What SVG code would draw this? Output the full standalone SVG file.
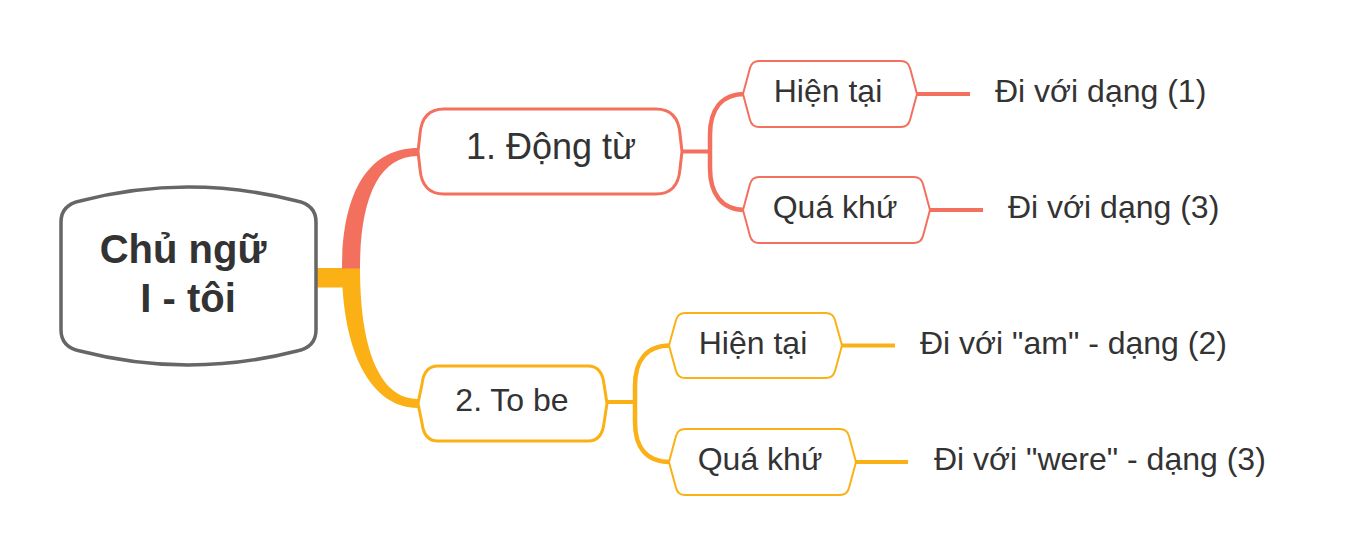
<svg xmlns="http://www.w3.org/2000/svg" width="1364" height="556" viewBox="0 0 1364 556">
<style>
text{font-family:"Liberation Sans",Arial,"Noto Sans",sans-serif;fill:#333333}
.central{font-size:40px;font-weight:bold;text-anchor:middle}
.main{font-size:36px;text-anchor:middle}
.main2{font-size:32px;text-anchor:middle}
.sub{font-size:32px;text-anchor:middle}
.leaf{font-size:32px}
.red{stroke:#F3705E}
.yel{stroke:#FBB116}
.nodeMain{fill:#ffffff;stroke-width:3}
.nodeSub{fill:#ffffff;stroke-width:2}
.line{fill:none;stroke-width:4;stroke-linecap:butt}
.brk{fill:none;stroke-width:4.5;stroke-linecap:butt}
</style>
<rect width="1364" height="556" fill="#ffffff"/>
<g id="connectors">
  <rect x="314" y="268" width="34" height="19.5" fill="#FBB116"/>
  <path d="M342,268 C342,350 370,408 418,408 L418,399 C378,399 360,345 360,268 Z" fill="#FBB116"/>
  <path d="M342,268.5 C342,190 370,148 418,148 L418,156 C378,156 360,200 360,268.5 Z" fill="#F3705E"/>
  <path class="line red" d="M681,151.5 H711"/>
  <path class="brk red" d="M745,94 C721,94 710,110 710,135 L710,168 C710,193 721,210 745,210"/>
  <path class="line yel" d="M606,402 H636"/>
  <path class="brk yel" d="M670,345.5 C646,345.5 635,361 635,386 L635,422 C635,447 646,462 670,462"/>
  <path class="line red" d="M917,94 H970"/>
  <path class="line red" d="M930,210 H983"/>
  <path class="line yel" d="M842,345.5 H895"/>
  <path class="line yel" d="M856,462 H908"/>
</g>
<g id="central">
  <path d="M61,222 Q61,205 80,201 Q188,173 297,201 Q316,205 316,222 L316,330 Q316,347 297,351 Q188,379 80,351 Q61,347 61,330 Z" fill="#ffffff" stroke="#666666" stroke-width="3.5"/>
  <text class="central" x="183" y="263">Chủ ngữ</text>
  <text class="central" x="188" y="312">I - tôi</text>
</g>
<g id="node-dongtu">
  <path class="nodeMain red" d="M444,109 H656 Q678,109 680,134 L682,151.5 L680,169 Q678,194 656,194 H444 Q422,194 420,169 L418,151.5 L420,134 Q422,109 444,109 Z"/>
  <text class="main" x="551" y="159">1. Động từ</text>
</g>
<g id="node-tobe">
  <path class="nodeMain yel" d="M438,366 H588 Q602,366 604,384 L607,403.5 L604,423 Q602,441 588,441 H438 Q424,441 422,423 L418,403.5 L422,384 Q424,366 438,366 Z"/>
  <text class="main2" x="512" y="411">2. To be</text>
</g>
<g id="node-hientai-1">
  <path class="nodeSub red" d="M759,61 H901 Q908,61 910,68 L917,94 L910,120 Q908,127 901,127 H759 Q752,127 750,120 L743,94 L750,68 Q752,61 759,61 Z"/>
  <text class="sub" x="828" y="102">Hiện tại</text>
</g>
<g id="node-quakhu-1">
  <path class="nodeSub red" d="M759,177 H914 Q921,177 923,184 L930,210 L923,236 Q921,243 914,243 H759 Q752,243 750,236 L743,210 L750,184 Q752,177 759,177 Z"/>
  <text class="sub" x="835" y="218">Quá khứ</text>
</g>
<g id="node-hientai-2">
  <path class="nodeSub yel" d="M685,313 H826 Q833,313 835,320 L842,345.5 L835,371 Q833,378 826,378 H685 Q678,378 676,371 L669,345.5 L676,320 Q678,313 685,313 Z"/>
  <text class="sub" x="753" y="354">Hiện tại</text>
</g>
<g id="node-quakhu-2">
  <path class="nodeSub yel" d="M685,429 H840 Q847,429 849,436 L856,462 L849,488 Q847,495 840,495 H685 Q678,495 676,488 L669,462 L676,436 Q678,429 685,429 Z"/>
  <text class="sub" x="760" y="470">Quá khứ</text>
</g>
<g id="leaf-1"><text class="leaf" x="995" y="102">Đi với dạng (1)</text></g>
<g id="leaf-2"><text class="leaf" x="1008" y="218">Đi với dạng (3)</text></g>
<g id="leaf-3"><text class="leaf" x="920" y="354">Đi với "am" - dạng (2)</text></g>
<g id="leaf-4"><text class="leaf" x="934" y="470">Đi với "were" - dạng (3)</text></g>
</svg>
